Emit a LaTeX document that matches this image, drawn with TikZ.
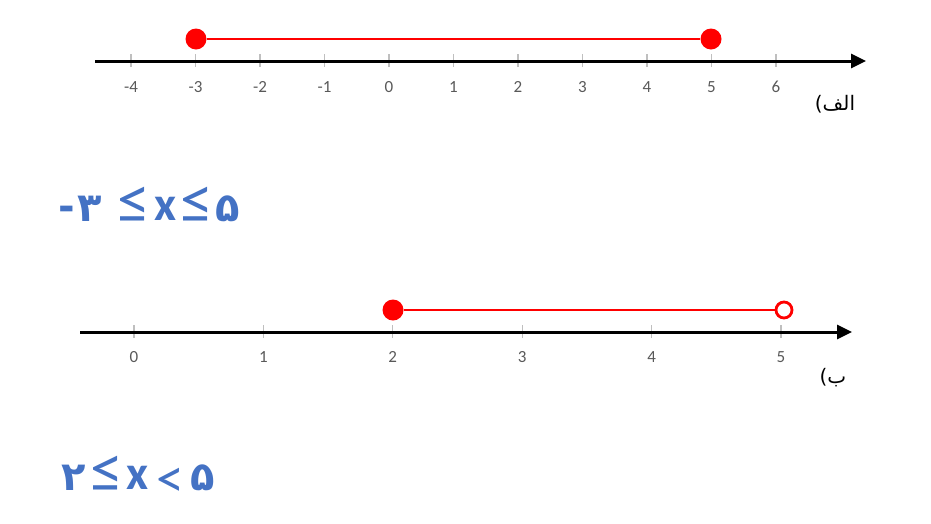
\documentclass[tikz,border=0pt]{standalone}
\usepackage{fontspec}
\setmainfont{Carlito}
\TeXXeTstate=1
\newfontfamily\arabicfont[Script=Arabic]{DejaVu Sans}
\newfontfamily\dvs{DejaVu Sans}
\usetikzlibrary{arrows.meta}
\definecolor{eqblue}{HTML}{4472C4}
\definecolor{ticklab}{HTML}{595959}
\definecolor{tickgray}{HTML}{BFBFBF}
\definecolor{dotred}{HTML}{FF0000}
\tikzset{
  axisline/.style={line width=3pt, -{Triangle[length=15pt,width=14pt]}},
  tickmark/.style={draw=tickgray, line width=1.3pt},
  ticklabel/.style={text=ticklab, font=\fontsize{17}{17}\selectfont, inner sep=0, anchor=center},
  fulldot/.style={circle, fill=dotred, minimum size=21pt, inner sep=0},
  opendot/.style={circle, draw=dotred, fill=white, line width=2.8pt, minimum size=16pt, inner sep=0},
  redrange/.style={draw=dotred, line width=1.8pt},
  eqsym/.style={text=eqblue, font=\fontsize{66}{66}\selectfont, inner sep=0, anchor=base},
  eqlt/.style={text=eqblue, font=\fontsize{56}{56}\selectfont, inner sep=0, anchor=base},
  eqx/.style={text=eqblue, font=\fontsize{48}{48}\selectfont\bfseries, inner sep=0, anchor=base},
  eqdigit/.style={text=eqblue, font=\fontsize{40}{40}\selectfont\dvs\bfseries, inner sep=0, anchor=base},
  partlabel/.style={font=\fontsize{20}{20}\selectfont\dvs, inner sep=0, anchor=center}
}
\begin{document}
\begin{tikzpicture}[x=1pt,y=-1pt]
\useasboundingbox (0,0) rectangle (931,523);
% ---------- axis A ----------
\coordinate (a0) at (95,61);
\coordinate (a1) at (866,61);
\foreach \v [count=\i] in {-4,-3,-2,-1,0,1,2,3,4,5,6}{
  \pgfmathsetmacro{\xx}{131+(\i-1)*64.5}
  \coordinate (at\i) at (\xx,61);
  \draw[tickmark] ([yshift=-6pt]at\i) -- ([yshift=7pt]at\i);
  \node[ticklabel] (al\i) at (\xx,87) {\v};
}
\draw[axisline] (a0) -- (a1);
\node[fulldot] (adl) at (196,39) {};
\node[fulldot] (adr) at (711,39) {};
\draw[redrange] (adl) -- (adr);
\node[partlabel] (alab) at (835,104) {(\arabicfont\beginR الف\endR};
% ---------- equation A ----------
\node[eqdigit] (e1a) at (67,220) {-};
\node[eqdigit] (e1b) at (90,221) {۳};
\node[eqsym] (e1c) at (134,223) {≤};
\node[eqx] (e1d) at (166,220) {x};
\node[eqsym] (e1e) at (197,223) {≤};
\node[eqdigit] (e1f) at (228,221) {۵};
% ---------- axis B ----------
\coordinate (b0) at (80,332);
\coordinate (b1) at (852,332);
\foreach \v [count=\i] in {0,1,2,3,4,5}{
  \pgfmathsetmacro{\xx}{134+(\i-1)*129.4}
  \coordinate (bt\i) at (\xx,332);
  \draw[tickmark] ([yshift=-6pt]bt\i) -- ([yshift=7pt]bt\i);
  \node[ticklabel] (bl\i) at (\xx,357) {\v};
}
\draw[axisline] (b0) -- (b1);
\node[fulldot] (bdl) at (393,310) {};
\node[opendot] (bdr) at (784,310) {};
\draw[redrange] (bdl) -- (bdr);
\node[partlabel] (blab) at (833,378) {(\arabicfont\beginR ب\endR};
% ---------- equation B ----------
\node[eqdigit] (e2a) at (74,490) {۲};
\node[eqsym] (e2b) at (107,492) {≤};
\node[eqx] (e2c) at (138,489) {x};
\node[eqlt] (e2d) at (170,497) {<};
\node[eqdigit] (e2e) at (203,490) {۵};
\end{tikzpicture}
\end{document}
